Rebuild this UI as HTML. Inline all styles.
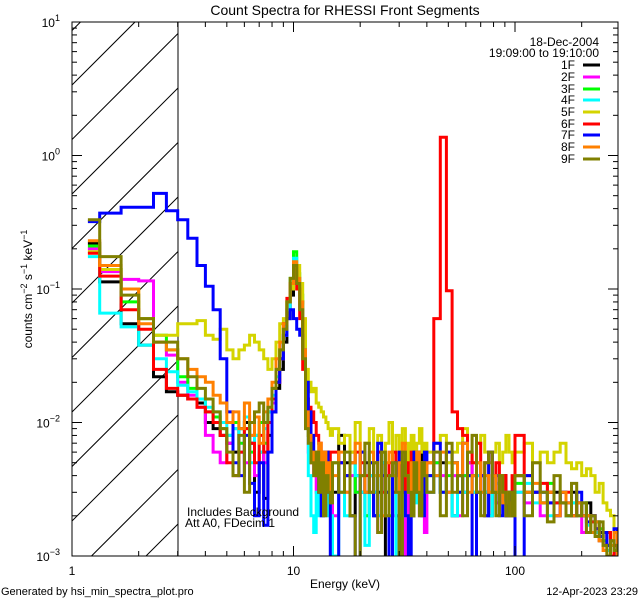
<!DOCTYPE html>
<html><head><meta charset="utf-8"><style>
html,body{margin:0;padding:0;width:640px;height:600px;overflow:hidden;background:#fff;}
svg{display:block;font-family:"Liberation Sans",sans-serif;}
</style></head><body>
<svg id="chart" width="640" height="600" viewBox="0 0 640 600">
<defs><clipPath id="plotclip"><rect x="72" y="22" width="546" height="534"/></clipPath></defs>
<rect x="0" y="0" width="640" height="600" fill="#fff"/>
<text x="345" y="15" font-size="14" text-anchor="middle">Count Spectra for RHESSI Front Segments</text>
<g id="hatch"></g>
<g id="series" clip-path="url(#plotclip)"></g>
<g id="axes"></g>
<text x="32" y="289" font-size="12" text-anchor="middle" transform="rotate(-90 32 289)">counts cm<tspan dy="-5" font-size="9">−2</tspan><tspan dy="5"> s</tspan><tspan dy="-5" font-size="9">−1</tspan><tspan dy="5"> keV</tspan><tspan dy="-5" font-size="9">−1</tspan></text>
<text x="345" y="588" font-size="12" text-anchor="middle">Energy (keV)</text>
<text x="1" y="595" font-size="11">Generated by hsi_min_spectra_plot.pro</text>
<text x="638" y="595" font-size="11" text-anchor="end">12-Apr-2023 23:29</text>
<text x="187" y="516" font-size="12">Includes Background</text>
<text x="185" y="527" font-size="12">Att A0, FDecim 1</text>
<text x="599" y="46" font-size="12" text-anchor="end">18-Dec-2004</text>
<text x="599" y="57" font-size="12" text-anchor="end">19:09:00 to 19:10:00</text>
<g id="legend"></g>
</svg>
<script>
const names=["1F","2F","3F","4F","5F","6F","7F","8F","9F"];
const colors=["#000000","#ff00ff","#00ff00","#00ffff","#d4d400","#ff0000","#0000ff","#ff8000","#808000"];
// values in units of 1e-3 counts cm^-2 s^-1 keV^-1
const s1F=[220,113,55,38,22,17,16,15,14,10,9,8,7,6,9,10,7,3,6,2.7,8,12,18,25,40,60,90,140,120,80,35,12,8,6,5,4,3,6,4,3,3,2, 3,8,5,2,4,3,5,4,2,3,5,0.8,4,3,2,0.5,4,3,5,2,4,3,6,4,3, 3,4,5,3,2,4,3,5,4,3,4,3,2,4,3,3,4,2,3,3, 4,3,3,2.5,3,3,2.5,2,3,2.5,2,2.5,2,1.8,1.5,1.5,1.2,1,1.2,1];
const s2F=[200,135,118,115,40,32,20,16,13,8,6,5,7,9,6,5,8,4,6,5,10,14,20,30,45,70,100,150,110,70,30,10,6,5,4,3,4,2,3,5,3,4, 2,5,3,4,3,6,2,4,3,1.5,5,3,4,2,3,5,4,0.8,3,4,5,3,2,4,1.5, 3,5,4,3,4,2,4,5,3,4,3,2,3,4,2.5,3,3,2,2.5,3, 3,2.5,3,2,2.5,2,3,2.5,2,2.5,1.5,2,2,1.6,1.4,1.2,1.5,1,1.1,1];
const s3F=[210,140,80,60,45,35,22,18,15,12,11,9,8,10,7,9,6,8,10,7,12,18,25,35,50,80,120,190,130,90,40,15,8,6,5,4,6,3,4,4,3,3, 5,3,4,6,3,4,2,5,3,4,6,3,2,4,5,3,4,6,3,5,4,3,5,4,3, 4,5,3,4,5,3,4,4,3,5,4,3,3,4,3,2.5,3,3,2,2.5, 3.5,3,3,2.5,3.5,2.5,3,2,2.5,2,2.5,2,1.8,1.5,1.6,1.3,1.1,1.2,1,1];
const s4F=[175,66,52,38,30,24,19,17,15,13,12,10,8,9,6,11,5,8,6,9,12,16,22,30,45,70,110,170,120,75,30,10,4,2,1.5,3,2,4,3,2,3,2, 1,3,2,5,4,3,1.2,4,3,2,5,3,4,0.7,3,4,2,5,3,4,2.5,3,5,4,3, 3,4,3,5,2,4,3,4,3,4,3,3,2,3,3.5,3,2.5,3,2,2, 3,3.5,2.5,3,2,2.5,3,2,2.5,2,2,1.7,1.8,1.5,1.3,1.2,1.1,1.3,1,1.2];
const s5F=[190,140,100,60,45,45,55,55,58,45,42,50,35,30,35,38,45,40,35,30,25,30,40,55,60,80,100,140,150,110,60,25,20,17,18,14,13,12,11,10,9,8, 9,7,8,6,10,5,7,9,4,8,6,7,10,5,8,6,9,7,5,8,6,7,9,6,7, 6,7,8,5,6,7,9,6,5,7,8,6,5,6,7,5,6,8,6,5, 6,7,5,6,5,6,7,5,4.5,5,4,4.5,4,3,3.5,2.5,2.2,2,1.5,1.3];
const s6F=[185,125,70,50,25,18,16,15,13,12,10,8,5,4,6,9,7,5,8,6,10,15,20,30,55,85,110,150,100,60,25,15,13,12,10,8,7,5,4,6,5,6, 6,5,4,5,6,5,4,3,5,6,3,4,5,6,4,5,3,4,5,6,5,4,5,4,5, 5,60,1370,97,12,9,8,6,5,7,4,5,6,4,5,3,4,3,3,4, 8,4,3,3.5,3,2.5,3,3,2,2.5,2,2,1.8,1.6,1.3,1.2,1.5,1,1.2,1];
const s7F=[320,370,410,410,520,385,330,240,150,105,70,30,12,5,4,8,3.5,2,5,1.7,6,12,20,30,45,60,70,60,50,45,35,20,12,8,6,5,3,2,4,6,3,0.5, 0.6,5,4,2,0.5,6,3,5,2,7,4,3,0.8,5,4,6,3,2,0.5,4,6,3,5,2,6, 4,7,3,6,5,3,7,4,0.5,3,4,2,6,3,4,2,3,2,3,2, 0.5,4,3,3,2.5,2,3,2.5,2,3,2,1.8,2,1.6,1.4,1.5,1.2,1.3,1.6,1];
const s8F=[230,150,100,55,40,35,30,25,22,20,16,14,10,12,9,14,8,11,7,12,15,20,30,40,55,80,110,160,120,80,35,12,8,5,6,4,7,5,6,4,5,3, 4,6,3,5,7,4,3,6,5,4,2,5,6,4,3,5,7,4,3,5,4,6,3,5,4, 5,4,6,3,5,4,7,3,4,5,3,4,3,4,3,4,2.5,3,2,2.5, 4,3,3.5,2.5,3,2,3,2.5,2,2.5,2,2,1.5,1.8,1.3,1.1,1,1.2,1.5,1];
const s9F=[330,175,90,60,40,40,30,22,18,15,12,9,6,4,8,3,10,12,14,10,13,18,25,35,50,80,120,150,110,70,30,9,7,5,4,6,3,5,2,4,3,2.5, 5,3,6,2,0.8,4,7,3,5,1.5,6,2,4,5,3,0.7,6,4,3,2,5,3,2,5,4, 3,6,2,7,3,4,2,6,8,3,2,5,6,3,2,4,3,2,3,2, 4,2,5,3,1.8,4,2.5,2,3.5,2,2.5,1.5,2,1.4,1.8,1.2,1,1.3,1.1,1.2];
const seriesData=[s1F,s2F,s3F,s4F,s5F,s6F,s7F,s8F,s9F];
const yTickLabels=["10","10","10","10","10"];
const yTickExps=["1","0","−1","−2","−3"];
const yTickValues=[10,1,0.1,0.01,0.001];
const xTickValues=[1,10,100];
const xTickLabels=["1","10","100"];

const edges=[1.18];
for(let i=4;i<=45;i++) edges.push(i/3);
for(let e=16;e<=40;e++) edges.push(e);
for(let e=43;e<=100;e+=3) edges.push(e);
for(let e=110;e<=300;e+=10) edges.push(e);

const X0=72,X1=618,Y0=22,Y1=556,DEC=221.5,YDEC=133.5;
function xs(e){return Math.min(X0+DEC*Math.log10(e),X1);}
function ys(v){return Math.min(Y0+(1-Math.log10(v))*YDEC,Y1+1);}
const NS="http://www.w3.org/2000/svg";
function mk(tag,attrs,parent){const el=document.createElementNS(NS,tag);for(const k in attrs)el.setAttribute(k,attrs[k]);parent.appendChild(el);return el;}

const hg=document.getElementById('hatch');
const HX1=178;
for(let k=-12;k<12;k++){
  const yi=85+k*54.5;
  const xa=Math.max(X0,X0+(yi-Y1));
  const xb=Math.min(HX1,X0+(yi-Y0));
  if(xa>=xb) continue;
  mk('line',{x1:xa,y1:yi-(xa-X0),x2:xb,y2:yi-(xb-X0),stroke:'#000','stroke-width':1},hg);
}
const bl=mk('line',{x1:178,y1:22,x2:178,y2:556,stroke:'#000','stroke-width':1},hg);



const sg=document.getElementById('series');
seriesData.forEach((vals,si)=>{
  let d='';
  for(let i=0;i<vals.length;i++){
    const v=vals[i]/1000;
    const xa=xs(edges[i]),xb=xs(edges[i+1]),y=ys(v);
    d+=(i===0?'M':'L')+xa.toFixed(1)+','+y.toFixed(1)+'L'+xb.toFixed(1)+','+y.toFixed(1);
  }
  const p=mk('path',{d:d,fill:'none',stroke:colors[si],'stroke-width':3,'stroke-linejoin':'miter'},sg);
  
  
});

const ag=document.getElementById('axes');
const frame=mk('rect',{x:X0,y:Y0,width:X1-X0,height:Y1-Y0,fill:'none',stroke:'#000','stroke-width':1},ag);


for(let dec=-3;dec<1;dec++){
  for(let m=1;m<10;m++){
    const y=ys(m*Math.pow(10,dec));
    const len=m===1?10:5;
    mk('line',{x1:X0,y1:y,x2:X0+len,y2:y,stroke:'#000'},ag);
    mk('line',{x1:X1,y1:y,x2:X1-len,y2:y,stroke:'#000'},ag);
  }
}
mk('line',{x1:X0,y1:ys(10),x2:X0+10,y2:ys(10),stroke:'#000'},ag);
mk('line',{x1:X1,y1:ys(10),x2:X1-10,y2:ys(10),stroke:'#000'},ag);
yTickValues.forEach((v,i)=>{
  const t=mk('text',{x:60,y:ys(v)+5,'font-size':12,'text-anchor':'end'},ag);
  
  
  t.textContent=yTickLabels[i];
  const s=mk('tspan',{dy:-6,'font-size':9},t);s.textContent=yTickExps[i];
});
for(let dec=0;dec<3;dec++){
  for(let m=1;m<10;m++){
    const e=m*Math.pow(10,dec);const x=X0+DEC*Math.log10(e);
    if(x>X1)break;
    const len=m===1?10:5;
    mk('line',{x1:x,y1:Y1,x2:x,y2:Y1-len,stroke:'#000'},ag);
    mk('line',{x1:x,y1:Y0,x2:x,y2:Y0+len,stroke:'#000'},ag);
  }
}
xTickValues.forEach((v,i)=>{
  const t=mk('text',{x:xs(v),y:575,'font-size':12,'text-anchor':'middle'},ag);
  
  
  t.textContent=xTickLabels[i];
});

const lg=document.getElementById('legend');
const legY=[65,77,89,100,112,124,135,147,159];
names.forEach((n,i)=>{
  const t=mk('text',{x:575,y:legY[i]+4,'font-size':12,'text-anchor':'end'},lg);
  
  
  t.textContent=n;
  const l=mk('line',{x1:583,y1:legY[i],x2:600,y2:legY[i],stroke:colors[i],'stroke-width':3},lg);
  
  
});
</script>
</body></html>
